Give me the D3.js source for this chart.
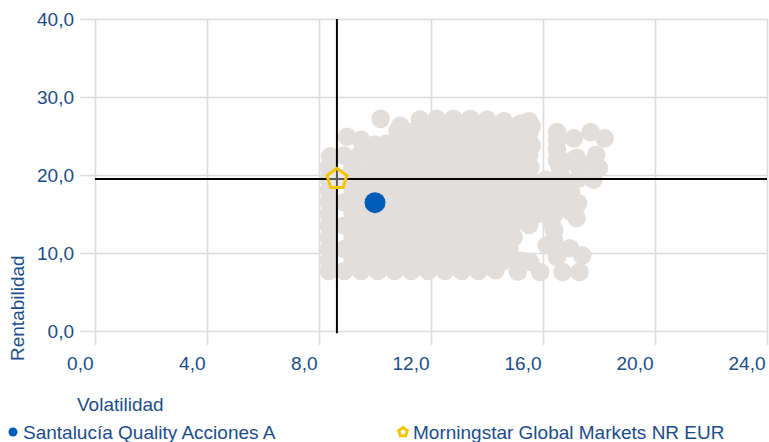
<!DOCTYPE html>
<html>
    <head>
        <meta charset="utf-8">
        <title>Rentabilidad / Volatilidad</title>
        <script src="https://d3js.org/d3.v7.min.js"></script>
        <style>
            body { margin: 0; background: #fff; }
            text { font-family: "Liberation Sans", Arial, sans-serif; fill: #1c4d8a; }
            .grid line { stroke: #dcdcdc; stroke-width: 1.6; }
            .grid text { font-size: 19px; }
        </style>
    </head>
    <body>
        <svg width="769" height="442"></svg>
        <script>
            // peer group cloud: [volatilidad, rentabilidad]
            var peers = [
                [10.2,27.2],[10.9,26.3],[11.6,27.1],[12.2,27.2],[12.8,27.2],[13.4,27.2],[14.0,27.1],[14.6,26.9],[15.2,26.6],[15.5,26.9],[15.6,26.2],
                [9.0,24.9],[9.5,24.5],[10.0,23.9],[10.8,25.6],[11.3,25.5],[11.9,25.5],[12.5,25.5],[13.1,25.5],[13.7,25.5],[14.3,25.5],[14.9,25.5],[15.5,25.3],
                [16.5,25.5],[16.5,24.4],[17.1,24.7],[17.7,25.5],[18.2,24.7],
                [10.4,24.0],[11.0,24.0],[11.6,24.0],[12.2,24.0],[12.8,24.0],[13.4,24.0],[14.0,24.0],[14.6,24.0],[15.2,24.0],[15.6,23.8],
                [8.4,22.4],[8.9,22.5],[9.5,22.8],[10.1,22.5],[10.7,22.5],[11.3,22.5],[11.9,22.5],[12.5,22.5],[13.1,22.5],[13.7,22.5],[14.3,22.5],[14.9,22.5],[15.5,22.5],
                [16.5,23.3],[17.2,22.2],[17.9,22.6],[16.5,21.9],[16.9,21.7],[17.75,21.5],
                [8.35,21.0],[9.2,21.0],[9.8,21.0],[10.4,21.0],[11.0,21.0],[11.6,21.0],[12.2,21.0],[12.8,21.0],[13.4,21.0],[14.0,21.0],[14.6,21.0],[15.2,21.0],[15.55,21.0],
                [16.6,20.9],[17.3,20.8],[18.0,20.9],
                [8.35,19.5],[8.9,19.6],[9.5,19.5],[10.1,19.5],[10.7,19.5],[11.3,19.5],[11.9,19.5],[12.5,19.5],[13.1,19.5],[13.7,19.5],[14.3,19.5],[14.9,19.5],[15.5,19.5],[16.1,19.4],[16.7,19.5],[17.3,19.6],[17.8,19.4],
                [8.35,18.0],[9.2,18.0],[9.8,18.0],[10.4,18.0],[11.0,18.0],[11.6,18.0],[12.2,18.0],[12.8,18.0],[13.4,18.0],[14.0,18.0],[14.6,18.0],[15.2,18.0],[15.8,18.0],[16.4,18.0],[17.0,17.8],
                [8.35,16.5],[8.9,16.5],[9.5,16.5],[10.1,16.5],[10.7,16.5],[11.3,16.5],[11.9,16.5],[12.5,16.5],[13.1,16.5],[13.7,16.5],[14.3,16.5],[14.9,16.5],[15.5,16.5],[16.1,16.5],[16.7,16.5],[17.25,16.4],
                [8.35,15.0],[9.2,15.0],[9.8,15.0],[10.4,15.0],[11.0,15.0],[11.6,15.0],[12.2,15.0],[12.8,15.0],[13.4,15.0],[14.0,15.0],[14.6,15.0],[15.2,15.0],[15.8,15.0],[16.4,15.0],[17.0,15.3],[17.2,14.5],
                [8.35,13.5],[8.9,13.5],[9.5,13.5],[10.1,13.5],[10.7,13.5],[11.3,13.5],[11.9,13.5],[12.5,13.5],[13.1,13.5],[13.7,13.5],[14.3,13.5],[14.9,13.5],[15.5,13.6],[16.3,13.9],[16.4,12.9],
                [8.35,12.0],[9.2,12.0],[9.8,12.0],[10.4,12.0],[11.0,12.0],[11.6,12.0],[12.2,12.0],[12.8,12.0],[13.4,12.0],[14.0,12.0],[14.6,12.0],[14.95,12.0],[16.4,11.6],
                [8.35,10.5],[8.9,10.5],[9.5,10.5],[10.1,10.5],[10.7,10.5],[11.3,10.5],[11.9,10.5],[12.5,10.5],[13.1,10.5],[13.7,10.5],[14.3,10.5],[14.8,10.5],
                [16.14,11.0],[16.96,10.6],[16.5,9.5],[17.4,9.7],[15.54,8.85],
                [8.35,9.0],[9.2,9.0],[9.8,9.0],[10.4,9.0],[11.0,9.0],[11.6,9.0],[12.2,9.0],[12.8,9.0],[13.4,9.0],[14.0,9.0],[14.6,9.0],[15.2,9.0],
                [8.35,7.7],[8.9,7.7],[9.5,7.7],[10.1,7.7],[10.7,7.7],[11.3,7.7],[11.9,7.7],[12.5,7.7],[13.1,7.7],[13.7,7.7],[14.3,7.8],[15.1,7.6],
                [15.9,7.56],[16.7,7.56],[17.3,7.56]
            ];
            var fundName = "Santalucía Quality Acciones A",
                fund = [10.0, 16.45];
            var benchName = "Morningstar Global Markets NR EUR",
                bench = [8.64, 19.5];
            var xTicks = [0, 4, 8, 12, 16, 20, 24],
                yTicks = [0, 10, 20, 30, 40];

            var svg = d3.select("svg");
            var esLocale = d3.formatLocale({ decimal: ",", thousands: ".", grouping: [3], currency: ["", " €"] });
            var fmt = esLocale.format(".1f");

            var x = d3.scaleLinear().domain([0, 24]).range([95, 767]),
                y = d3.scaleLinear().domain([0, 40]).range([331, 19]);

            // horizontal grid + y labels
            var gy = svg.append("g")
                .attr("class", "grid")
                .attr("transform", "translate(80,0)")
                .call(d3.axisLeft(y).tickValues(yTicks).tickFormat(fmt).tickSize(-(767 - 80)).tickPadding(6));
            gy.select(".domain").remove();

            // vertical grid + x labels
            var gx = svg.append("g")
                .attr("class", "grid")
                .attr("transform", "translate(0,345)")
                .call(d3.axisBottom(x).tickValues(xTicks).tickFormat(fmt).tickSize(-(345 - 19)).tickPadding(12));
            gx.select(".domain").remove();
            gx.selectAll("text").attr("text-anchor", "end").attr("x", -2);

            // peers
            svg.append("g").selectAll("circle")
                .data(peers)
                .enter().append("circle")
                .attr("cx", function(d) { return x(d[0]); })
                .attr("cy", function(d) { return y(d[1]); })
                .attr("r", 9.3)
                .attr("fill", "#e2dedb");

            // benchmark crosshair
            svg.append("line")
                .attr("x1", x(bench[0])).attr("x2", x(bench[0]))
                .attr("y1", y(40)).attr("y2", y(-0.3))
                .attr("stroke", "#000").attr("stroke-width", 2);
            svg.append("line")
                .attr("x1", x(0)).attr("x2", x(24))
                .attr("y1", y(bench[1])).attr("y2", y(bench[1]))
                .attr("stroke", "#000").attr("stroke-width", 2);

            function pentagon(r) {
                var pts = [];
                for (var i = 0; i < 5; i++) {
                    var a = -Math.PI / 2 + i * 2 * Math.PI / 5;
                    pts.push([r * Math.cos(a), r * Math.sin(a)]);
                }
                return "M" + pts.join("L") + "Z";
            }

            // fund
            svg.append("circle")
                .attr("cx", x(fund[0])).attr("cy", y(fund[1]))
                .attr("r", 10.5)
                .attr("fill", "#005cb9");

            // benchmark
            svg.append("path")
                .attr("d", pentagon(10.5))
                .attr("transform", "translate(" + x(bench[0]) + "," + y(bench[1]) + ")")
                .attr("fill", "rgba(255,255,255,0.35)")
                .attr("stroke", "#f5c400")
                .attr("stroke-width", 3);

            // axis titles
            svg.append("text")
                .attr("x", 77).attr("y", 411)
                .attr("font-size", "19px")
                .text("Volatilidad");
            svg.append("text")
                .attr("transform", "translate(24,361) rotate(-90)")
                .attr("font-size", "19px")
                .text("Rentabilidad");

            // legend
            svg.append("circle")
                .attr("cx", 13).attr("cy", 432).attr("r", 4.5)
                .attr("fill", "#005cb9");
            svg.append("text")
                .attr("x", 23).attr("y", 439)
                .attr("font-size", "19px")
                .text(fundName);
            svg.append("path")
                .attr("d", pentagon(4.5))
                .attr("transform", "translate(403,432)")
                .attr("fill", "#fff")
                .attr("stroke", "#f5c400")
                .attr("stroke-width", 3);
            svg.append("text")
                .attr("x", 413).attr("y", 439)
                .attr("font-size", "19px")
                .text(benchName);
        </script>
    </body>
</html>
